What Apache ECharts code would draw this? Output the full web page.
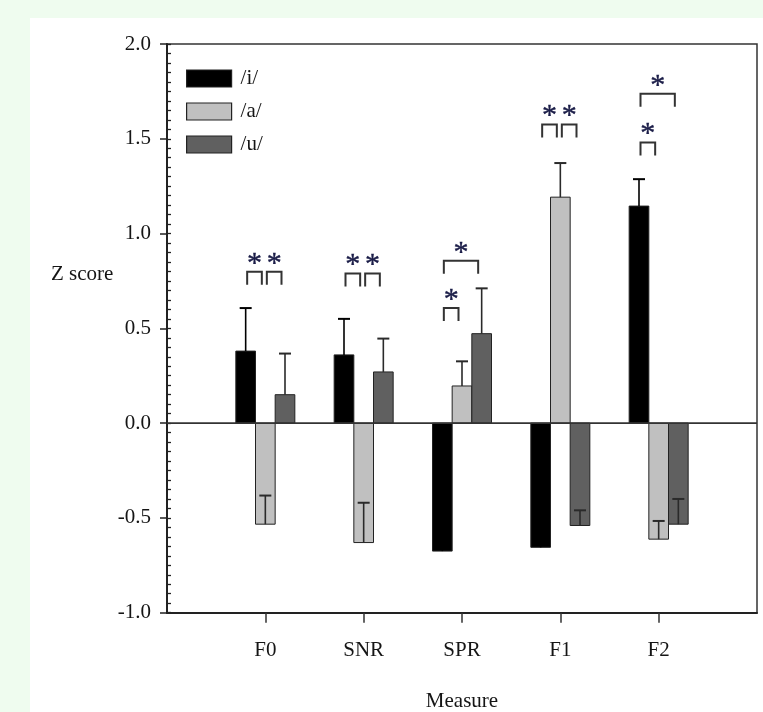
<!DOCTYPE html>
<html>
<head>
<meta charset="utf-8">
<script src="https://cdn.jsdelivr.net/npm/echarts@6/dist/echarts.min.js"></script>
<style>
  html, body { margin: 0; padding: 0; background: #effcef; width: 763px; height: 712px; overflow: hidden; }
  #chart { position: absolute; left: 30px; top: 18px; width: 733px; height: 694px; background: #ffffff; }
</style>
</head>
<body>
<div id="chart"></div>
<script>
// ---- data ----
const categories = ['F0', 'SNR', 'SPR', 'F1', 'F2'];
const vowels = ['/i/', '/a/', '/u/'];
const iValues = [0.38, 0.36, -0.675, -0.655, 1.145];
const aValues = [-0.533, -0.63, 0.196, 1.192, -0.612];
const uValues = [0.15, 0.27, 0.472, -0.54, -0.533];
const iErrors = [0.227, 0.19, 0.2, 0.2, 0.142];
const aErrors = [0.151, 0.21, 0.13, 0.18, 0.096];
const uErrors = [0.217, 0.176, 0.239, 0.08, 0.133];
// significance brackets: [category index, vowel A index, vowel B index, bracket level (Z)]
const sigBrackets = [
  [0, 0, 1, 0.798], [0, 1, 2, 0.798],
  [1, 0, 1, 0.789], [1, 1, 2, 0.789],
  [2, 0, 1, 0.608], [2, 0, 2, 0.856],
  [3, 0, 1, 1.576], [3, 1, 2, 1.576],
  [4, 0, 1, 1.480], [4, 0, 2, 1.738]
];
const yTicks = { min: -1, max: 2, step: 0.5, minorStep: 0.05 };

// ---- styling ----
const colors = ['#000000', '#c0c0c0', '#606060'];
const errorColors = ['#000000', '#2a2a2a', '#2a2a2a'];
const barOffsets = [-0.2, 0, 0.2];
const barHalf = 0.1;
const serif = '"Liberation Serif", "Times New Roman", serif';
const textColor = '#151515';

const valueSets = [iValues, aValues, uValues];
const errorSets = [iErrors, aErrors, uErrors];

function barSeries(k) {
  return {
    name: vowels[k],
    type: 'custom',
    z: 3,
    itemStyle: { color: colors[k], borderColor: '#222', borderWidth: 1 },
    data: categories.map((c, i) => [i + 1 + barOffsets[k], valueSets[k][i]]),
    renderItem: function (params, api) {
      const x = api.value(0), v = api.value(1);
      const p0 = api.coord([x - barHalf, 0]);
      const p1 = api.coord([x + barHalf, v]);
      return {
        type: 'rect',
        shape: { x: p0[0], y: Math.min(p0[1], p1[1]), width: p1[0] - p0[0], height: Math.abs(p1[1] - p0[1]) },
        style: { fill: colors[k], stroke: '#222', lineWidth: 1 }
      };
    }
  };
}

function errorSeries(k) {
  return {
    name: vowels[k] + ' error',
    type: 'custom',
    z: 4,
    silent: true,
    data: categories.map((c, i) => [i + 1 + barOffsets[k], valueSets[k][i], errorSets[k][i]]),
    renderItem: function (params, api) {
      const x = api.value(0), v = api.value(1), e = api.value(2);
      const p0 = api.coord([x, v]);
      const p1 = api.coord([x, v + e]);
      const cap = 6;
      return {
        type: 'group',
        children: [
          { type: 'line', shape: { x1: p0[0], y1: p0[1], x2: p1[0], y2: p1[1] }, style: { stroke: errorColors[k], lineWidth: 1.6 } },
          { type: 'line', shape: { x1: p1[0] - cap, y1: p1[1], x2: p1[0] + cap, y2: p1[1] }, style: { stroke: errorColors[k], lineWidth: 2 } }
        ]
      };
    }
  };
}

const bracketSeries = {
  name: 'significance',
  type: 'custom',
  z: 5,
  silent: true,
  data: sigBrackets.map(b => [b[0] + 1 + barOffsets[b[1]], b[0] + 1 + barOffsets[b[2]], b[3]]),
  renderItem: function (params, api) {
    const pa = api.coord([api.value(0), api.value(2)]);
    const pb = api.coord([api.value(1), api.value(2)]);
    const inset = 2.5, leg = 13;
    const xa = pa[0] - 1 + inset, xb = pb[0] - 1 - inset, y = pa[1];
    return {
      type: 'group',
      children: [
        { type: 'polyline', shape: { points: [[xa, y + leg], [xa, y], [xb, y], [xb, y + leg]] },
          style: { stroke: '#333', lineWidth: 2, fill: null } },
        { type: 'text', x: (xa + xb) / 2, y: y - 8,
          style: { text: '*', fontSize: 30, fontFamily: serif, fill: '#1b1d48', align: 'center', verticalAlign: 'middle',
                   stroke: '#1b1d48', lineWidth: 0.4 } }
      ]
    };
  }
};

const zeroLine = {
  name: 'zero',
  type: 'line',
  z: 6,
  silent: true,
  symbol: 'none',
  data: [[0, 0], [categories.length + 1, 0]],
  lineStyle: { color: '#333', width: 1.8 }
};

const chart = echarts.init(document.getElementById('chart'), null, { renderer: 'canvas' });
chart.setOption({
  animation: false,
  backgroundColor: '#ffffff',
  title: {
    text: 'Z score',
    left: 16, top: 241,
    textStyle: { fontFamily: serif, fontSize: 21, fontWeight: 'normal', color: textColor }
  },
  grid: { left: 137, right: 6, top: 26, bottom: 99.3, show: true, borderColor: '#333', borderWidth: 1.5,
          backgroundColor: 'transparent', containLabel: false, outerBoundsMode: 'none' },
  legend: {
    data: vowels,
    orient: 'vertical',
    left: 151, top: 45,
    itemWidth: 45, itemHeight: 17, itemGap: 12,
    icon: 'rect',
    itemStyle: { borderColor: '#222', borderWidth: 1.2 },
    textStyle: { fontFamily: serif, fontSize: 21, color: textColor, padding: [0, 0, 0, 4] },
    selectedMode: false
  },
  xAxis: {
    type: 'value',
    min: 0, max: categories.length + 1, interval: 1,
    name: 'Measure', nameLocation: 'middle', nameGap: 78,
    nameTextStyle: { fontFamily: serif, fontSize: 21, color: textColor },
    axisLine: { show: true, onZero: false, lineStyle: { color: '#222', width: 2 } },
    axisTick: { show: true, length: 10, customValues: [1, 2, 3, 4, 5], lineStyle: { color: '#333', width: 1.5 } },
    axisLabel: { customValues: [1, 2, 3, 4, 5], margin: 27, fontFamily: serif, fontSize: 21, color: textColor,
      formatter: v => categories[Math.round(v) - 1] || '' },
    splitLine: { show: false }
  },
  yAxis: [{
    type: 'value',
    min: yTicks.min, max: yTicks.max, interval: yTicks.step,
    axisLine: { show: true, lineStyle: { color: '#222', width: 2 } },
    axisTick: { show: true, length: 7, lineStyle: { color: '#222', width: 1.5 } },
    axisLabel: { margin: 16, fontFamily: serif, fontSize: 21, color: textColor, formatter: v => v.toFixed(1) },
    splitLine: { show: false }
  }, {
    type: 'value',
    position: 'left',
    min: yTicks.min, max: yTicks.max, interval: yTicks.minorStep,
    axisLine: { show: false },
    axisTick: { show: true, inside: true, length: 4, lineStyle: { color: '#222', width: 1.3 } },
    axisLabel: { show: false },
    splitLine: { show: false }
  }],
  series: [
    barSeries(0), barSeries(1), barSeries(2),
    errorSeries(0), errorSeries(1), errorSeries(2),
    bracketSeries, zeroLine
  ]
});
</script>
</body>
</html>
